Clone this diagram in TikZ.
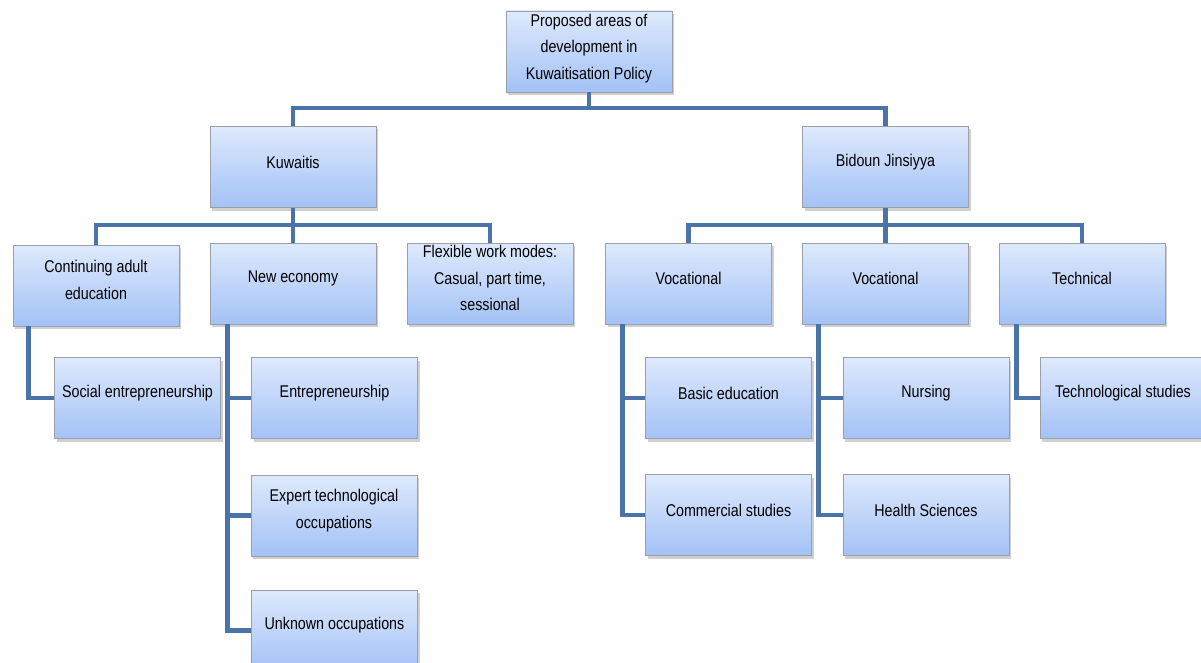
\documentclass[tikz,border=0pt]{standalone}
\usepackage{fontspec}
\setmainfont{Liberation Sans}[FakeStretch=0.84]
\usetikzlibrary{shadows}
\definecolor{connc}{RGB}{74,115,168}
\definecolor{boxtop}{RGB}{222,233,252}
\definecolor{boxbot}{RGB}{163,194,246}
\definecolor{boxline}{RGB}{155,160,168}
\tikzset{
  box/.style={rectangle, draw=boxline, line width=0.8pt, top color=boxtop, bottom color=boxbot,
    minimum width=166pt, minimum height=81pt, inner sep=0pt,
    drop shadow={shadow xshift=2pt, shadow yshift=-3pt, opacity=0.3, fill=black!60}},
  txt/.style={align=center, inner sep=0pt, font=\fontsize{17}{26.5}\selectfont, text=black},
  conn/.style={draw=connc, line width=4.8pt}
}
\newcommand\bx[4]{%
  \node[box] (#1) at (#2) {};
  \node[txt] (#1t) at ([yshift=#3]#1.center) {#4};
}
\begin{document}
\begin{tikzpicture}[x=1pt,y=-1pt]
\clip (0,0) rectangle (1201,663);
\fill[white] (0,0) rectangle (1201,663);
\coordinate (j0) at (589,108);
\coordinate (j1) at (293,225);
\coordinate (j2) at (885.5,225);
\bx{top}{589,51.5}{3pt}{Proposed areas of\\development in\\Kuwaitisation Policy}
\bx{kw}{293,167}{5pt}{Kuwaitis}
\bx{bd}{885.5,167}{5pt}{Bidoun Jinsiyya}
\bx{cae}{96,285.5}{5.5pt}{Continuing adult\\education}
\bx{ne}{293,283.5}{5pt}{New economy}
\bx{flex}{490,283.5}{5.5pt}{Flexible work modes:\\Casual, part time,\\sessional}
\bx{voc1}{688.5,283.5}{5pt}{Vocational}
\bx{voc2}{885.5,283.5}{5pt}{Vocational}
\bx{tech}{1082,283.5}{5pt}{Technical}
\bx{soc}{137.5,398}{5pt}{Social entrepreneurship}
\bx{ent}{334.5,398}{5pt}{Entrepreneurship}
\bx{exp}{334,515.5}{5pt}{Expert technological\\occupations}
\bx{unk}{334.5,630.5}{5pt}{Unknown occupations}
\bx{basic}{728.5,398}{5pt}{Basic education}
\bx{comm}{728.5,515}{5pt}{Commercial studies}
\bx{nurs}{926,398}{5pt}{Nursing}
\bx{health}{926,515}{5pt}{Health Sciences}
\bx{techst}{1123,398}{5pt}{Technological studies}
\coordinate (caev) at ([xshift=16pt]cae.south west);
\coordinate (nev) at ([xshift=18pt]ne.south west);
\coordinate (v1v) at ([xshift=17pt]voc1.south west);
\coordinate (v2v) at ([xshift=16pt]voc2.south west);
\coordinate (tev) at ([xshift=18pt]tech.south west);
\draw[conn] (top.south) -- (j0);
\draw[conn] (kw.north) |- (j0) -| (bd.north);
\draw[conn] (kw.south) -- (ne.north);
\draw[conn] (cae.north) |- (j1) -| (flex.north);
\draw[conn] (bd.south) -- (voc2.north);
\draw[conn] (voc1.north) |- (j2) -| (tech.north);
\draw[conn] (caev) |- (soc.west);
\draw[conn] (nev) |- (ent.west);
\draw[conn] (nev) |- (exp.west);
\draw[conn] (nev) |- (unk.west);
\draw[conn] (v1v) |- (basic.west);
\draw[conn] (v1v) |- (comm.west);
\draw[conn] (v2v) |- (nurs.west);
\draw[conn] (v2v) |- (health.west);
\draw[conn] (tev) |- (techst.west);
\end{tikzpicture}
\end{document}
